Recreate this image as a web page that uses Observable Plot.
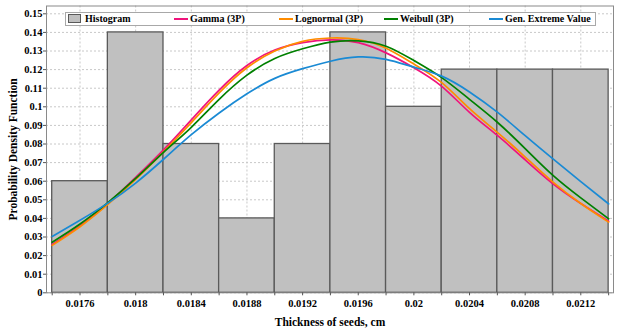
<!DOCTYPE html>
<html>
<head>
<meta charset="utf-8">
<script src="https://cdn.jsdelivr.net/npm/d3@7"></script>
<script src="https://cdn.jsdelivr.net/npm/@observablehq/plot@0.6"></script>
<style>
  html, body { margin: 0; padding: 0; background: #fff; }
  #wrap { position: relative; width: 620px; height: 332px; }
  #legend {
    position: absolute; left: 65px; top: 12px; width: 529px; height: 12px;
    border: 1px solid #a8a8a8; background: #fff;
    font-family: "Liberation Serif", "Times New Roman", serif; font-weight: bold; font-size: 10px;
  }
  #legend .item { position: absolute; top: 0; height: 12px; line-height: 12px; white-space: nowrap; }
  #legend .sw { position: absolute; top: 1px; width: 13px; height: 9px; background: #c0c0c0; border: 1px solid #5a5a5a; box-sizing: border-box; }
  #legend .ln { position: absolute; top: 5px; width: 14px; height: 2px; }
  #legend .tx { position: absolute; top: 0; }
</style>
</head>
<body>
<div id="wrap"></div>
<script>
// ---- data ----
const binEdges = [0.0174, 0.0178, 0.0182, 0.0186, 0.019, 0.0194, 0.0198, 0.0202, 0.0206, 0.021, 0.0214];
const histFreq = [0.06, 0.14, 0.08, 0.04, 0.08, 0.14, 0.10, 0.12, 0.12, 0.12];

const curveX = [0.0174, 0.0176, 0.0178, 0.018, 0.0182, 0.0184, 0.0186, 0.0188, 0.019, 0.0192, 0.0194,
                0.0196, 0.0198, 0.02, 0.0202, 0.0204, 0.0206, 0.0208, 0.021, 0.0212, 0.0214];
const gammaY     = [0.026, 0.036, 0.048, 0.062, 0.0768, 0.093, 0.109, 0.1222, 0.1305, 0.1345, 0.136,
                    0.1345, 0.129, 0.121, 0.111, 0.097, 0.0846, 0.0715, 0.0586, 0.048, 0.0385];
const lognormalY = [0.0255, 0.0355, 0.0475, 0.061, 0.0758, 0.0915, 0.1075, 0.121, 0.130, 0.1352, 0.137,
                    0.1362, 0.1315, 0.123, 0.113, 0.099, 0.0863, 0.073, 0.0595, 0.048, 0.038];
const weibullY   = [0.0272, 0.037, 0.0485, 0.0615, 0.0755, 0.089, 0.104, 0.117, 0.126, 0.1312, 0.1348,
                    0.1355, 0.1326, 0.1249, 0.1157, 0.104, 0.0917, 0.0775, 0.0631, 0.051, 0.0398];
const gevY       = [0.0303, 0.039, 0.0482, 0.059, 0.0718, 0.085, 0.0967, 0.107, 0.1153, 0.1205, 0.1245,
                    0.1268, 0.1255, 0.1213, 0.1165, 0.108, 0.0971, 0.0845, 0.072, 0.0598, 0.0478];

const seriesNames  = ["Gamma (3P)", "Lognormal (3P)", "Weibull (3P)", "Gen. Extreme Value"];
const seriesColors = ["#f0147c", "#ff8c00", "#008000", "#1a8ad4"];

const xTickValues = [0.0176, 0.018, 0.0184, 0.0188, 0.0192, 0.0196, 0.02, 0.0204, 0.0208, 0.0212];
const xTickLabels = ["0.0176", "0.018", "0.0184", "0.0188", "0.0192", "0.0196", "0.02", "0.0204", "0.0208", "0.0212"];
const xMinorTicks = [0.0174, 0.0176, 0.0178, 0.018, 0.0182, 0.0184, 0.0186, 0.0188, 0.019, 0.0192, 0.0194,
                     0.0196, 0.0198, 0.02, 0.0202, 0.0204, 0.0206, 0.0208, 0.021, 0.0212, 0.0214];
const yTickValues = [0, 0.01, 0.02, 0.03, 0.04, 0.05, 0.06, 0.07, 0.08, 0.09, 0.1, 0.11, 0.12, 0.13, 0.14, 0.15];
const yTickLabels = ["0", "0.01", "0.02", "0.03", "0.04", "0.05", "0.06", "0.07", "0.08", "0.09", "0.1",
                     "0.11", "0.12", "0.13", "0.14", "0.15"];

// ---- tables ----
const bars = histFreq.map((f, i) => ({x1: binEdges[i], x2: binEdges[i + 1], y: f}));
const seriesY = [gammaY, lognormalY, weibullY, gevY];
const curves = seriesY.map(ys => curveX.map((x, i) => ({x, y: ys[i]})));

const font = "'Liberation Serif', 'Times New Roman', serif";

const chart = Plot.plot({
  width: 620,
  height: 332,
  marginLeft: 46,
  marginRight: 7,
  marginTop: 5.5,
  marginBottom: 39.7,
  x: {domain: [0.017359, 0.021435], label: null},
  y: {domain: [0, 0.1542], label: null},
  style: {fontFamily: font, fontWeight: "bold", fontSize: "10.5px", color: "#000", background: "#fff"},
  marks: [
    Plot.gridX(xTickValues, {stroke: "#c8c8c8", strokeOpacity: 1, strokeDasharray: "2,2"}),
    Plot.gridY(yTickValues, {stroke: "#c8c8c8", strokeOpacity: 1, strokeDasharray: "2,2"}),
    Plot.rectY(bars, {x1: "x1", x2: "x2", y: "y", fill: "#c0c0c0", stroke: "#5a5a5a", strokeWidth: 1.3}),
    ...curves.map((c, i) => Plot.line(c, {x: "x", y: "y", stroke: seriesColors[i], strokeWidth: 1.7, curve: "natural"})),
    Plot.frame({stroke: "#8a8a8a"}),
    Plot.axisX(xMinorTicks, {tickSize: 3, tickFormat: () => "", label: null, stroke: "#555"}),
    Plot.axisX(xTickValues, {tickSize: 0, tickPadding: 7, tickFormat: (d, i) => xTickLabels[i], label: null}),
    Plot.axisX([], {label: "Thickness of seeds, cm", labelAnchor: "center", labelOffset: 33, labelArrow: "none", fontSize: 11.5}),
    Plot.axisY(yTickValues, {tickSize: 3, tickPadding: 1, tickFormat: (d, i) => yTickLabels[i], label: null, stroke: "#555"}),
    Plot.axisY([], {label: "Probability Density Function", labelAnchor: "center", labelOffset: 38, labelArrow: "none", fontSize: 11.5})
  ]
});

const wrap = document.getElementById("wrap");
wrap.appendChild(chart);

// ---- legend ----
const legend = document.createElement("div");
legend.id = "legend";
const items = [
  {label: "Histogram", type: "box", left: 2},
  {label: seriesNames[0], type: "line", color: seriesColors[0], left: 108},
  {label: seriesNames[1], type: "line", color: seriesColors[1], left: 213},
  {label: seriesNames[2], type: "line", color: seriesColors[2], left: 318},
  {label: seriesNames[3], type: "line", color: seriesColors[3], left: 423}
];
for (const it of items) {
  const d = document.createElement("div");
  d.className = "item";
  d.style.left = it.left + "px";
  const s = document.createElement("div");
  if (it.type === "box") { s.className = "sw"; s.style.left = "0px"; }
  else { s.className = "ln"; s.style.left = "0px"; s.style.background = it.color; }
  d.appendChild(s);
  const t = document.createElement("span");
  t.className = "tx";
  t.style.left = (it.type === "box" ? 17 : 16) + "px";
  t.textContent = it.label;
  d.appendChild(t);
  legend.appendChild(d);
}
wrap.appendChild(legend);
</script>
</body>
</html>
